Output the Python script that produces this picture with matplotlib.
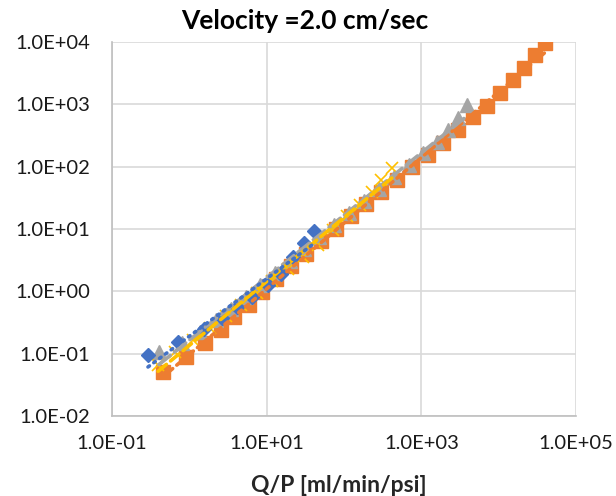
import numpy as np
import matplotlib
matplotlib.use("Agg")
import matplotlib.pyplot as plt
from matplotlib.ticker import FixedLocator, FuncFormatter, NullLocator

plt.rcParams['font.family'] = ['Lato', 'DejaVu Sans']

title = "Velocity =2.0 cm/sec"
xlabel = "Q/P [ml/min/psi]"

blue_x = [0.292, 0.714, 1.55, 2.65, 4.14, 6.47, 10.4, 15.3, 22.0, 30.5, 41.0]
blue_y = [0.095, 0.154, 0.248, 0.373, 0.560, 0.811, 1.26, 1.90, 3.56, 5.96, 9.29]

orange_x = [0.457, 0.906, 1.60, 2.57, 3.79, 5.92, 8.71, 13.2, 20.7, 32.4, 50.6, 79.1,
            124, 193, 302, 487, 760, 1225, 1915, 2990, 4680, 7100, 10450, 15400,
            21400, 29700, 40000]
orange_y = [0.0508, 0.0883, 0.148, 0.239, 0.387, 0.604, 0.975, 1.58, 2.55, 3.97, 6.42,
            10.0, 16.2, 25.2, 39.2, 61.1, 98.8, 154, 240, 387, 627, 940, 1520, 2455,
            3830, 6180, 9640]

gray_x = [0.405, 0.805, 1.37, 2.21, 3.46, 5.42, 8.22, 12.9, 20.1, 30.5, 47.6, 74.5,
          116, 182, 284, 445, 695, 1055, 1600, 2220, 2990, 3920]
gray_y = [0.106, 0.148, 0.222, 0.347, 0.520, 0.811, 1.26, 1.97, 3.06, 4.78, 7.45,
          11.6, 18.1, 28.1, 43.9, 68.2, 106, 166, 249, 387, 604, 975]

yellow_x = [0.394, 0.653, 1.12, 1.85, 2.99, 4.67, 7.52, 11.7, 18.9, 29.6, 46.2, 72.3,
            110, 162, 231, 302, 419]
yellow_y = [0.0658, 0.106, 0.166, 0.258, 0.402, 0.604, 0.940, 1.47, 2.28, 3.56, 5.53,
            9.64, 16.2, 24.3, 39.2, 61.1, 95.2]

xticks = [1e-1, 1e1, 1e3, 1e5]
yticks = [1e-2, 1e-1, 1e0, 1e1, 1e2, 1e3, 1e4]

BLUE = "#4472C4"
ORANGE = "#ED7D31"
GRAY = "#A5A5A5"
YELLOW = "#FFC000"

fig = plt.figure(figsize=(6.16, 4.96), dpi=100)
ax = fig.add_axes([112/616, 1-416/496, (576-112)/616, (416-42)/496])
ax.set_xscale('log')
ax.set_yscale('log')
ax.set_xlim(1e-1, 1e5)
ax.set_ylim(1e-2, 1e4)

ax.plot(orange_x, orange_y, ls='none', marker='s', ms=10, color=ORANGE, zorder=3)
ax.plot(gray_x, gray_y, ls='none', marker='^', ms=10, color=GRAY, zorder=4)
ax.plot(yellow_x, yellow_y, ls='none', marker='x', ms=9, mew=1.2, color=YELLOW, zorder=5)
ax.plot(blue_x, blue_y, ls='none', marker='D', ms=7.5, color=BLUE, zorder=6)

def trend(xs, ys, color, ls, z):
    xs = np.asarray(xs, float); ys = np.asarray(ys, float)
    b, a = np.polyfit(np.log10(xs), np.log10(ys), 1)
    xx = np.logspace(np.log10(xs.min()), np.log10(xs.max()), 50)
    ax.plot(xx, 10**(a + b*np.log10(xx)), color=color, lw=2.6, ls=ls,
            dash_capstyle='round', solid_capstyle='round', zorder=z)

trend(orange_x, orange_y, ORANGE, (0, (1, 1.5)), 7)
trend(gray_x, gray_y, GRAY, (0, (4, 1.5)), 8)
trend(yellow_x, yellow_y, YELLOW, (0, (3, 1.5)), 9)
trend(blue_x, blue_y, BLUE, (0, (0.5, 1.5)), 10)

ax.xaxis.set_major_locator(FixedLocator(xticks))
ax.yaxis.set_major_locator(FixedLocator(yticks))
ax.xaxis.set_minor_locator(NullLocator())
ax.yaxis.set_minor_locator(NullLocator())
fmt = FuncFormatter(lambda v, p: ("%.1E" % v))
ax.xaxis.set_major_formatter(fmt)
ax.yaxis.set_major_formatter(fmt)
ax.tick_params(axis='both', length=0, labelsize=14.5, colors='#1a1a1a')
ax.tick_params(axis='x', pad=14)
ax.tick_params(axis='y', pad=16)

ax.grid(True, which='major', color='#D9D9D9', lw=1.2, zorder=0)
ax.set_axisbelow(True)
for s in ['top', 'right']:
    ax.spines[s].set_visible(False)
for s in ['left', 'bottom']:
    ax.spines[s].set_color('#BFBFBF')
    ax.spines[s].set_linewidth(1.2)

fig.text(305/616, 1-21/496, title, ha='center', va='center', fontsize=19, fontweight='bold')
fig.text(339/616, 1-485/496, xlabel, ha='center', va='center', fontsize=16.5, fontweight='bold',
         color='#262626')

fig.savefig("out.png", dpi=100)
